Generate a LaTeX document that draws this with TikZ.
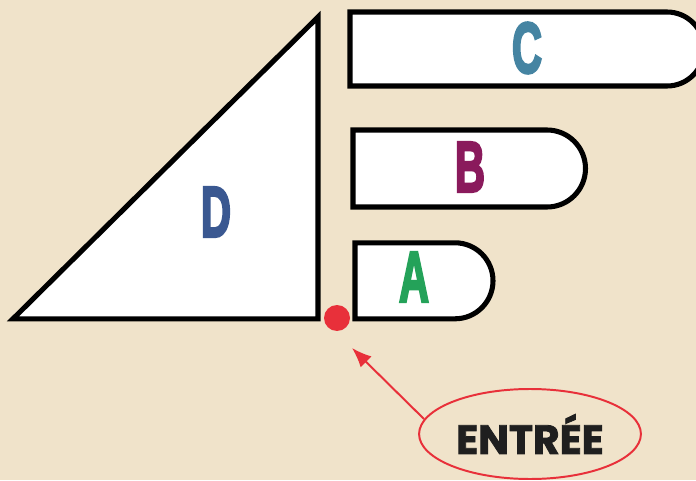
\documentclass[tikz,border=0pt]{standalone}
\usepackage{fontspec}
\setmainfont{Liberation Sans}
\newfontfamily\lettrefont{Liberation Sans}[BoldFeatures={FakeBold=4}]
\newfontfamily\entreefont{Poppins}[BoldFeatures={FakeBold=2}]
\usetikzlibrary{shapes.geometric,arrows.meta}
\definecolor{sable}{HTML}{F0E3CA}
\definecolor{bleuD}{HTML}{3A5891}
\definecolor{bleuC}{HTML}{4584A2}
\definecolor{violetB}{HTML}{8A1A5C}
\definecolor{vertA}{HTML}{24A259}
\definecolor{rouge}{HTML}{E8303A}
\tikzset{
	zone/.style={draw=black,fill=white,line width=3.6pt},
	lettre/.style={font=\lettrefont\bfseries\fontsize{51}{51}\selectfont,inner sep=0pt},
}
\newcommand{\etroit}[1]{\scalebox{0.58}[1]{#1}}
\begin{document}
\begin{tikzpicture}
			\fill[sable] (0,0) rectangle (17.4,12);
			\useasboundingbox (0,0) rectangle (17.4,12);
			\draw[zone] (0.325,4.03) -- (7.95,4.03) -- (7.95,11.575) -- cycle;
			\draw[zone] (8.75,11.7) -- (16.675,11.7) arc[start angle=90,end angle=-90,radius=0.925] -- (8.75,9.85) -- cycle;
			\draw[zone] (8.825,8.75) -- (13.675,8.75) arc[start angle=90,end angle=-90,radius=0.9625] -- (8.825,6.825) -- cycle;
			\draw[zone] (8.875,5.93) -- (11.375,5.93) arc[start angle=90,end angle=-90,radius=0.95] -- (8.875,4.03) -- cycle;
			\node[lettre,text=bleuD] (lettreD) at (5.4,6.7) {\etroit{D}};
			\node[lettre,text=bleuC] (lettreC) at (13.175,10.8) {\etroit{C}};
			\node[lettre,text=violetB] (lettreB) at (11.75,7.825) {\etroit{B}};
			\node[lettre,text=vertA] (lettreA) at (10.35,5.075) {\etroit{A}};
			\node[circle,fill=rouge,minimum size=0.65cm,inner sep=0pt] (entreeDot) at (8.425,4.05) {};
			\node[ellipse,draw=rouge,line width=1.4pt,minimum width=4.8cm,minimum height=2.25cm,
				font=\entreefont\bfseries\fontsize{29}{29}\selectfont,text=black!88] (entree) at (13.25,1.15) {ENTRÉE};
			\coordinate (flecheBout) at (8.8,3.3);
			\draw[rouge,line width=1.4pt,-{Latex[length=14pt,width=11pt]}] (entree.172) -- (flecheBout);
		\end{tikzpicture}
\end{document}
